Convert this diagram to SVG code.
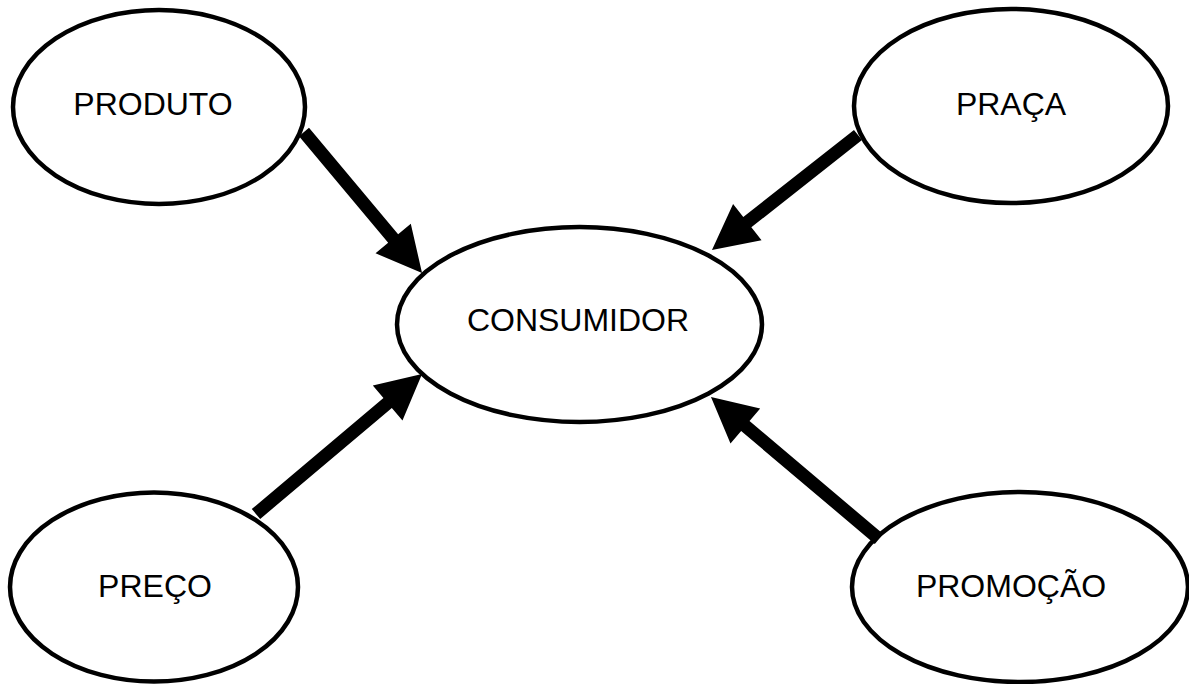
<svg xmlns="http://www.w3.org/2000/svg" width="1189" height="684" viewBox="0 0 1189 684">
<style>
.node ellipse{fill:#fff;stroke:#000;stroke-width:4.5}
.node text{font-family:"Liberation Sans",Arial,sans-serif;font-size:32px;fill:#000;text-anchor:middle}
.arrow{fill:#000;stroke:none}
</style>
<rect width="1189" height="684" fill="#fff"/>
<g id="produto" class="node"><ellipse cx="159" cy="107" rx="146" ry="97"/><text x="153" y="115">PRODUTO</text></g>
<g id="praca" class="node"><ellipse cx="1011" cy="106" rx="157" ry="97"/><text x="1011" y="115">PRAÇA</text></g>
<g id="consumidor" class="node"><ellipse cx="579.5" cy="324.5" rx="182.5" ry="97.5"/><text x="578" y="331">CONSUMIDOR</text></g>
<g id="preco" class="node"><ellipse cx="154" cy="587" rx="144" ry="94.5"/><text x="155" y="597">PREÇO</text></g>
<g id="promocao" class="node"><ellipse cx="1020" cy="587" rx="168" ry="95"/><text x="1011" y="597">PROMOÇÃO</text></g>
<g id="connectors">
<polygon class="arrow" transform="translate(304,132) rotate(50.07)" points="0,-6.5 138.9,-6.5 138.9,-23 183.9,0 138.9,23 138.9,6.5 0,6.5"/>
<polygon class="arrow" transform="translate(858,135) rotate(141.77)" points="0,-6.5 140.9,-6.5 140.9,-23 185.9,0 140.9,23 140.9,6.5 0,6.5"/>
<polygon class="arrow" transform="translate(256,514) rotate(-40.14)" points="0,-6.5 172.2,-6.5 172.2,-23 217.2,0 172.2,23 172.2,6.5 0,6.5"/>
<polygon class="arrow" transform="translate(879,539) rotate(-139.8)" points="0,-6.5 175,-6.5 175,-23 220,0 175,23 175,6.5 0,6.5"/>
</g>
</svg>
